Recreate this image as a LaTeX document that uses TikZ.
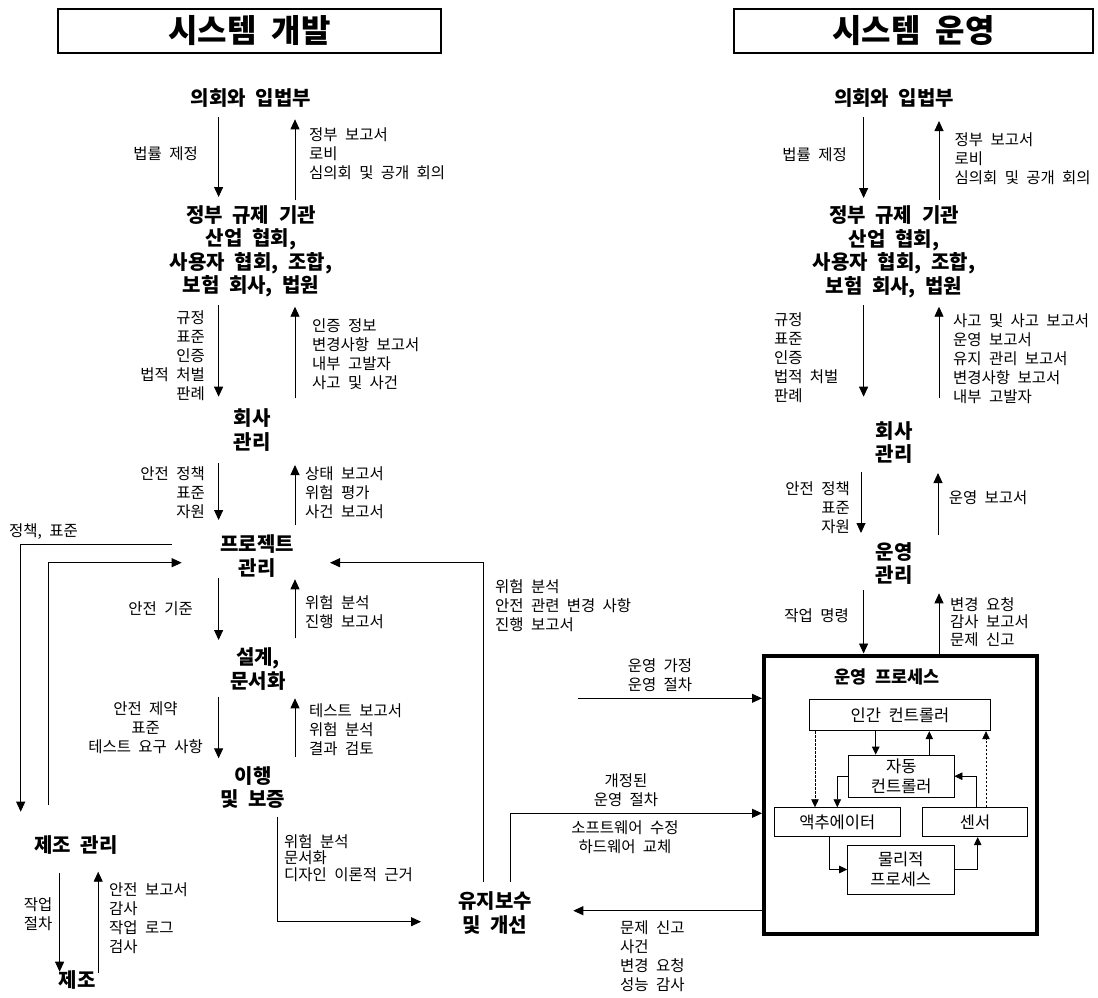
\documentclass[tikz,border=0pt]{standalone}
\usepackage{fontspec}
\setmainfont{Noto Sans CJK KR}[WordSpace=2.1]
\usetikzlibrary{arrows.meta,calc}
\begin{document}
\begin{tikzpicture}[x=1pt,y=-1pt,
  bn/.style={font=\bfseries\fontsize{20}{23.5}\selectfont, align=center, inner sep=0pt},
  lb/.style={font=\fontsize{15.5}{19}\selectfont, inner sep=0pt},
  ibox/.style={draw, line width=0.9pt, font=\fontsize{16.5}{20.5}\selectfont, align=center, inner sep=0pt},
  arr/.style={line width=0.9pt, -{Triangle[length=10pt,width=9pt]}},
  iarr/.style={line width=0.8pt, -{Triangle[length=8pt,width=7.5pt]}},
  dsh/.style={line width=0.6pt, dash pattern=on 2.5pt off 1.5pt},
  titlebox/.style={draw, line width=2pt, inner sep=0pt, font=\bfseries\fontsize{32}{38}\selectfont}
]
\fill[white] (0,0) rectangle (1098,997);
\useasboundingbox (0,0) rectangle (1098,997);

% titles
\node[titlebox, minimum width=383pt, minimum height=43.7pt] (t1) at (249.5,30.9) {시스템 개발};
\node[titlebox, minimum width=359pt, minimum height=43.7pt] (t2) at (913.5,30.9) {시스템 운영};

% left column nodes
\node[bn] (cong) at (251,98) {의회와 입법부};
\node[bn] (gov) at (251,251.2) {정부 규제 기관\\산업 협회,\\사용자 협회, 조합,\\보험 회사, 법원};
\node[bn] (comp) at (252,430) {회사\\관리};
\node[bn] (proj) at (257,555.8) {프로젝트\\관리};
\node[bn] (design) at (258,669) {설계,\\문서화};
\node[bn] (impl) at (253,787.5) {이행\\및 보증};
\node[bn] (mfgm) at (76,845) {제조 관리};
\node[bn] (mfg) at (77,980) {제조};
\node[bn] (maint) at (495,913) {유지보수\\및 개선};

% right column nodes
\node[bn] (cong2) at (894,98) {의회와 입법부};
\node[bn] (gov2) at (894,252) {정부 규제 기관\\산업 협회,\\사용자 협회, 조합,\\보험 회사, 법원};
\node[bn] (comp2) at (894,442.5) {회사\\관리};
\node[bn] (opm) at (894,563.4) {운영\\관리};

% operating process
\node[draw, line width=4pt, minimum width=273pt, minimum height=278.5pt, inner sep=0pt] (opbox) at (900.5,794.75) {};
\node[font=\bfseries\fontsize{17.5}{20}\selectfont, inner sep=0pt] (opt) at (887,676.7) {운영 프로세스};
\node[ibox, minimum width=181.4pt, minimum height=31.7pt] (hc) at (900,714.9) {인간 컨트롤러};
\node[ibox, minimum width=105.3pt, minimum height=42.3pt] (ac) at (901.3,776.2) {자동\\컨트롤러};
\node[ibox, minimum width=126.7pt, minimum height=29pt] (act) at (837.3,822.2) {액추에이터};
\node[ibox, minimum width=104.6pt, minimum height=29pt] (sen) at (975,822.2) {센서};
\node[ibox, minimum width=106.3pt, minimum height=49pt] (pp) at (900.8,869.5) {물리적\\프로세스};

% left labels
\node[lb, anchor=east, align=right] (l1) at (198,154) {법률 제정};
\node[lb, anchor=west, align=left] (l2) at (309,154) {정부 보고서\\로비\\심의회 및 공개 회의};
\node[lb, anchor=east, align=right] (l3) at (205,356) {규정\\표준\\인증\\법적 처벌\\판례};
\node[lb, anchor=west, align=left] (l4) at (312,354.3) {인증 정보\\변경사항 보고서\\내부 고발자\\사고 및 사건};
\node[lb, anchor=east, align=right] (l5) at (205,493) {안전 정책\\표준\\자원};
\node[lb, anchor=west, align=left] (l6) at (305,493) {상태 보고서\\위험 평가\\사건 보고서};
\node[lb, anchor=west] (l7) at (9,531.7) {정책, 표준};
\node[lb, anchor=east] (l8) at (193,608.3) {안전 기준};
\node[lb, anchor=west, align=left] (l9) at (305,612.5) {위험 분석\\진행 보고서};
\node[lb, anchor=east, align=center] (l10) at (203,728) {안전 제약\\표준\\테스트 요구 사항};
\node[lb, anchor=west, align=left] (l11) at (309,729.7) {테스트 보고서\\위험 분석\\결과 검토};
\node[lb, anchor=west, align=left, font=\fontsize{15.5}{16.5}\selectfont] (l12) at (284,858) {위험 분석\\문서화\\디자인 이론적 근거};
\node[lb, anchor=east, align=center] (l13) at (52.6,914) {작업\\절차};
\node[lb, anchor=west, align=left] (l14) at (109,918) {안전 보고서\\감사\\작업 로그\\검사};
\node[lb, anchor=west, align=left] (l15) at (495,606) {위험 분석\\안전 관련 변경 사항\\진행 보고서};

% right labels
\node[lb, anchor=east] (r1) at (847,155) {법률 제정};
\node[lb, anchor=west, align=left] (r2) at (954.5,159) {정부 보고서\\로비\\심의회 및 공개 회의};
\node[lb, anchor=west, align=left] (r3) at (773.8,357.5) {규정\\표준\\인증\\법적 처벌\\판례};
\node[lb, anchor=west, align=left] (r4) at (953,359) {사고 및 사고 보고서\\운영 보고서\\유지 관리 보고서\\변경사항 보고서\\내부 고발자};
\node[lb, anchor=east, align=right] (r5) at (850,507.5) {안전 정책\\표준\\자원};
\node[lb, anchor=west] (r6) at (948.6,498) {운영 보고서};
\node[lb, anchor=east] (r7) at (849,616) {작업 명령};
\node[lb, anchor=west, align=left, font=\fontsize{15.5}{17.2}\selectfont] (r8) at (950,622) {변경 요청\\감사 보고서\\문제 신고};
\node[lb, align=center] (r9) at (660,675.5) {운영 가정\\운영 절차};
\node[lb, align=center] (r10) at (626,790.5) {개정된\\운영 절차};
\node[lb, align=center] (r11) at (625,837.5) {소프트웨어 수정\\하드웨어 교체};
\node[lb, anchor=west, align=left] (r12) at (620,956) {문제 신고\\사건\\변경 요청\\성능 감사};

% left column arrows
\draw[arr] ($(cong)+(-32.4,19)$) -- ($(gov)+(-32.4,-54.2)$);
\draw[arr] ($(gov)+(44,-51.2)$) -- ($(cong)+(44,21.3)$);
\draw[arr] ($(gov)+(-32.4,53.8)$) -- ($(comp)+(-33.4,-33.3)$);
\draw[arr] ($(comp)+(43,-31.7)$) -- ($(gov)+(44,55.5)$);
\draw[arr] ($(comp)+(-33.4,33.3)$) -- ($(proj)+(-38.4,-35.8)$);
\draw[arr] ($(proj)+(38,-30.8)$) -- ($(comp)+(43,35)$);
\draw[arr] ($(proj)+(-38.4,22.5)$) -- ($(design)+(-39.4,-29)$);
\draw[arr] ($(design)+(37,-30.7)$) -- ($(proj)+(38,23.5)$);
\draw[arr] ($(design)+(-39.4,27.7)$) -- ($(impl)+(-34.4,-29.2)$);
\draw[arr] ($(impl)+(42,-30.8)$) -- ($(design)+(37,29.3)$);

% feedback loops
\draw[arr] ($(proj)+(-85,-11.1)$) -| ($(mfgm)+(-55.3,-33.3)$);
\draw[arr] ($(mfgm)+(-27.7,-40)$) |- ($(proj)+(-75.3,6.9)$);
\draw[arr] ($(mfgm)+(-16.4,28.3)$) -- ($(mfg)+(-17.4,-8.3)$);
\draw[arr] ($(mfg)+(21.2,-7.3)$) -- ($(mfgm)+(22.2,26.7)$);
\draw[arr] ($(impl)+(24,29.2)$) |- ($(maint)+(-74,8.7)$);
\draw[arr] ($(maint)+(-11.7,-31.3)$) |- ($(proj)+(73,6.9)$);
\draw[arr] ($(maint)+(15,-31.3)$) |- ($(opbox.west)+(0,18.55)$);
\coordinate (oa) at (578.3,698.3);
\draw[arr] (oa) -- ($(opbox.west)+(0,-96.45)$);
\draw[arr] ($(opbox.west)+(0,115.95)$) -- ($(maint)+(78.3,-2.3)$);

% right column arrows
\draw[arr] ($(cong2)+(-30.4,19)$) -- ($(gov2)+(-30.4,-54)$);
\draw[arr] ($(gov2)+(45,-52)$) -- ($(cong2)+(45,23)$);
\draw[arr] ($(gov2)+(-30.4,53)$) -- ($(comp2)+(-30.4,-45.8)$);
\draw[arr] ($(comp2)+(45,-44.5)$) -- ($(gov2)+(45,54.7)$);
\draw[arr] ($(comp2)+(-33,29.2)$) -- ($(opm)+(-33,-30.4)$);
\draw[arr] ($(opm)+(44,-28.4)$) -- ($(comp2)+(44,30.5)$);
\draw[arr] ($(opm)+(-30.4,26.6)$) -- ($(opbox.north)+(-36.9,0)$);
\draw[arr] ($(opbox.north)+(38.5,0)$) -- ($(opm)+(45,29.9)$);

% inner control loop
\draw[iarr] ($(hc.south)+(-24.3,0)$) -- ($(ac.north)+(-25.6,0)$);
\draw[iarr] ($(ac.north)+(28,0)$) -- ($(hc.south)+(29.3,0)$);
\draw[iarr, dsh] ($(hc.south)+(-85,0)$) -- ($(act.north)+(-22.3,0)$);
\draw[iarr] (ac.west) -| (act.north);
\draw[iarr] ($(sen.north)+(1.7,0)$) |- (ac.east);
\draw[iarr, dsh] ($(sen.north)+(11,0)$) -- ($(hc.south)+(86,0)$);
\draw[iarr] ($(act.south)+(-8.3,0)$) |- (pp.west);
\draw[iarr] (pp.east) -| ($(sen.south)+(2.7,0)$);
\end{tikzpicture}
\end{document}
